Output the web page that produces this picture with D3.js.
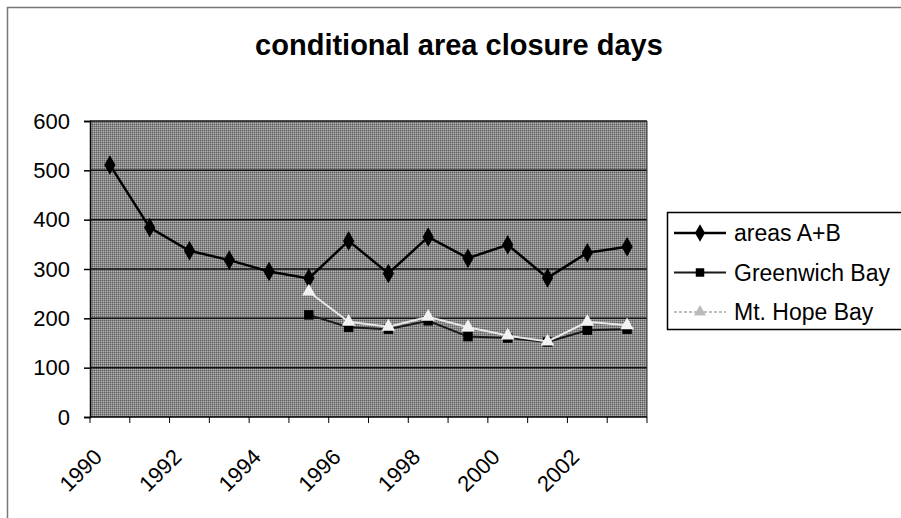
<!DOCTYPE html>
<html>
<head>
<meta charset="utf-8">
<script src="https://cdn.jsdelivr.net/npm/d3@7"></script>
<style>
  body { margin: 0; background: #fff; }
  svg { display: block; font-family: "Liberation Sans", Arial, sans-serif; }
</style>
</head>
<body>
<svg id="chart" width="901" height="518"></svg>
<script>
// data
const years = [1990, 1991, 1992, 1993, 1994, 1995, 1996, 1997, 1998, 1999, 2000, 2001, 2002, 2003];
const yearLabels = ["1990", "1992", "1994", "1996", "1998", "2000", "2002"];
const areasAB = [511, 384, 337, 318, 295, 281, 357, 291, 365, 322, 349, 282, 333, 345];
const greenwichBay = [null, null, null, null, null, 207, 182, 178, 195, 163, 160, 152, 176, 178];
const mtHopeBay = [null, null, null, null, null, 254, 193, 183, 203, 182, 165, 153, 193, 186];
const yTicks = [0, 100, 200, 300, 400, 500, 600];

const svg = d3.select("#chart");
const plot = {left: 90, right: 647, top: 121, bottom: 417};

// chart border (runs off the right / bottom edge like the scan)
svg.append("rect")
    .attr("x", 7.5).attr("y", 7.5)
    .attr("width", 910).attr("height", 530)
    .attr("fill", "none").attr("stroke", "#777").attr("stroke-width", 1.5);

svg.append("text")
    .attr("x", 459).attr("y", 55)
    .attr("text-anchor", "middle")
    .style("font-size", "29px").style("font-weight", "bold")
    .text("conditional area closure days");

const x = d3.scaleBand().domain(years).range([plot.left, plot.right]).padding(0);
const y = d3.scaleLinear().domain([0, 600]).range([plot.bottom, plot.top]);

// plot area, a fine checker to stand in for the scanned dither
const defs = svg.append("defs");
const pat = defs.append("pattern")
    .attr("id", "dither").attr("width", 2).attr("height", 2)
    .attr("patternUnits", "userSpaceOnUse");
pat.append("rect").attr("width", 2).attr("height", 2).attr("fill", "#8a8a8a");
pat.append("rect").attr("width", 1).attr("height", 1).attr("fill", "#5e5e5e");
pat.append("rect").attr("x", 1).attr("y", 1).attr("width", 1).attr("height", 1).attr("fill", "#b0b0b0");

svg.append("rect")
    .attr("x", plot.left).attr("y", plot.top)
    .attr("width", plot.right - plot.left).attr("height", plot.bottom - plot.top)
    .attr("fill", "url(#dither)");

// gridlines
svg.append("g")
    .selectAll("line")
    .data(yTicks.filter(d => d > 0))
    .join("line")
        .attr("x1", plot.left).attr("x2", plot.right)
        .attr("y1", d => y(d)).attr("y2", d => y(d))
        .attr("stroke", "#111").attr("stroke-width", 1.5);

svg.append("line")
    .attr("x1", plot.right).attr("x2", plot.right)
    .attr("y1", plot.top).attr("y2", plot.bottom)
    .attr("stroke", "#333").attr("stroke-width", 1);

// y axis
const yAxis = svg.append("g")
    .attr("transform", `translate(${plot.left},0)`)
    .call(d3.axisLeft(y).tickValues(yTicks).tickSize(6).tickPadding(14));
yAxis.selectAll("text").style("font-size", "22px").attr("fill", "#000");
yAxis.selectAll("line, path").attr("stroke", "#000").attr("stroke-width", 1.5);

// x axis: ticks between categories, labels every 2nd year
const xAxis = svg.append("g")
    .attr("transform", `translate(0,${plot.bottom})`);
xAxis.append("line")
    .attr("x1", plot.left).attr("x2", plot.right)
    .attr("stroke", "#000").attr("stroke-width", 1.5);
const edges = years.map(d => x(d)).concat([x(years[years.length - 1]) + x.bandwidth()]);
xAxis.selectAll(".tk")
    .data(edges)
    .join("line")
        .attr("class", "tk")
        .attr("x1", d => d).attr("x2", d => d)
        .attr("y1", 0).attr("y2", 6)
        .attr("stroke", "#000").attr("stroke-width", 1);
xAxis.selectAll(".lbl")
    .data(yearLabels)
    .join("text")
        .attr("class", "lbl")
        .attr("text-anchor", "end")
        .attr("transform", d => `translate(${x(+d) + x.bandwidth() / 2 - 12},${36}) rotate(-45)`)
        .attr("dy", "0.35em")
        .style("font-size", "22px")
        .text(d => d);

// series
const series = [
    {name: "areas A+B", values: areasAB, line: "#000", width: 2.5, marker: "diamond", fill: "#000", size: 110},
    {name: "Greenwich Bay", values: greenwichBay, line: "#1a1a1a", width: 2, marker: "square", fill: "#000", size: 90},
    {name: "Mt. Hope Bay", values: mtHopeBay, line: "#e6e6e6", width: 2, marker: "triangle", fill: "#f2f2f2", size: 80}
];
const symbolType = {diamond: d3.symbolDiamond, square: d3.symbolSquare, triangle: d3.symbolTriangle};

const line = d3.line()
    .defined(d => d.v != null)
    .x(d => x(d.year) + x.bandwidth() / 2)
    .y(d => y(d.v));

series.forEach(s => {
    const pts = years.map((yr, i) => ({year: yr, v: s.values[i]}));
    svg.append("path")
        .datum(pts)
        .attr("fill", "none")
        .attr("stroke", s.line)
        .attr("stroke-width", s.width)
        .attr("d", line);
    svg.append("g")
        .selectAll("path")
        .data(pts.filter(d => d.v != null))
        .join("path")
            .attr("transform", d => `translate(${x(d.year) + x.bandwidth() / 2},${y(d.v)})`)
            .attr("d", d3.symbol().type(symbolType[s.marker]).size(s.size))
            .attr("fill", s.fill);
});

// legend
const legend = svg.append("g");
legend.append("rect")
    .attr("x", 667.5).attr("y", 212.5)
    .attr("width", 260).attr("height", 117)
    .attr("fill", "#fff").attr("stroke", "#000").attr("stroke-width", 1.5);
series.forEach((s, i) => {
    const ly = 233 + i * 39.5;
    legend.append("line")
        .attr("x1", 674).attr("x2", 726)
        .attr("y1", ly).attr("y2", ly)
        .attr("stroke", i === 2 ? "#aaa" : s.line)
        .attr("stroke-width", i === 2 ? 1.5 : s.width)
        .attr("stroke-dasharray", i === 2 ? "3,2" : null);
    legend.append("path")
        .attr("transform", `translate(700,${ly})`)
        .attr("d", d3.symbol().type(symbolType[s.marker]).size(s.size * 0.8))
        .attr("fill", i === 2 ? "#bbb" : s.fill);
    legend.append("text")
        .attr("x", 734).attr("y", ly)
        .attr("dy", "0.35em")
        .style("font-size", "23px")
        .text(s.name);
});
</script>
</body>
</html>
